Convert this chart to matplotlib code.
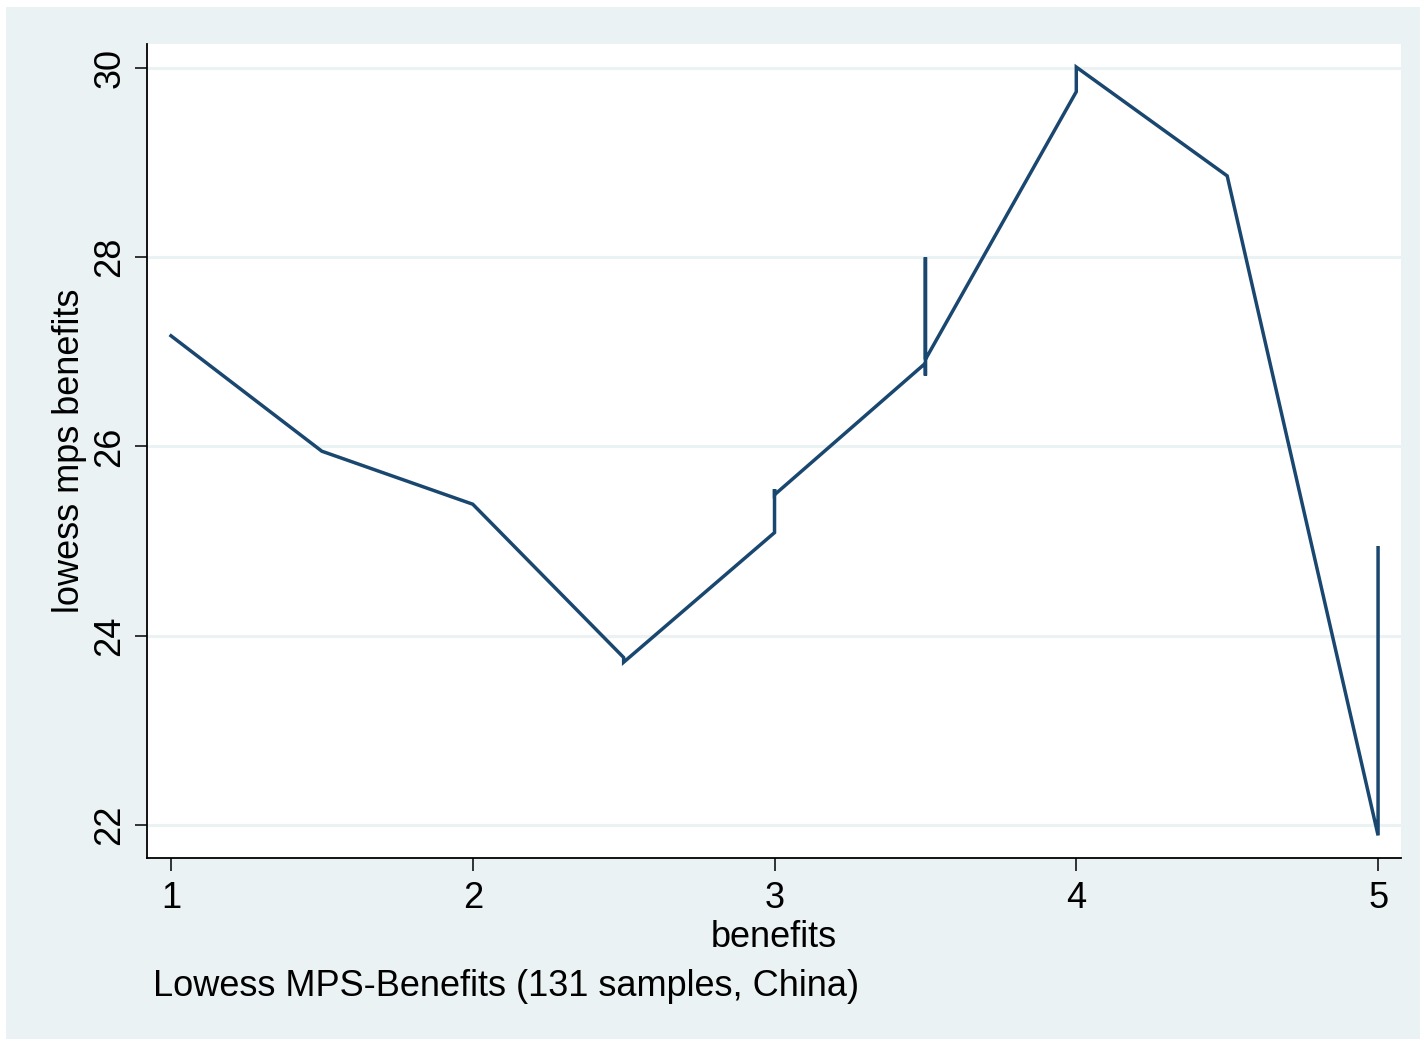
import matplotlib
matplotlib.use("Agg")
import matplotlib.pyplot as plt
from matplotlib.patches import Rectangle

plt.rcParams['font.family'] = ['Liberation Sans', 'DejaVu Sans']

# lowess fit, in the order Stata draws it (ties give vertical jumps)
benefits = [1, 1.5, 2, 2.5, 2.5, 3, 3, 3, 3.5, 3.5, 3.5, 3.5, 4, 4, 4.5, 5, 5]
lowess_mps = [27.17, 25.95, 25.39, 23.77, 23.72, 25.09, 25.55, 25.49,
              26.88, 26.75, 28.0, 26.92, 29.75, 30.01, 28.86, 21.89, 24.93]

x_ticks = [1, 2, 3, 4, 5]
y_ticks = [22, 24, 26, 28, 30]

BG = '#eaf2f3'
LINE = '#1a476f'

fig = plt.figure(figsize=(14.2, 10.39), dpi=100)
fig.patch.set_facecolor('white')
fig.patches.append(Rectangle((6 / 1420, 0), 1, 1 - 7 / 1039, transform=fig.transFigure,
                             facecolor=BG, edgecolor='none', zorder=-10))

ax = fig.add_axes([147 / 1420, 1 - 857.7 / 1039, (1401 - 147) / 1420, (857.7 - 44) / 1039])
ax.set_facecolor('white')

ax.plot(benefits, lowess_mps, color=LINE, lw=2.5, solid_joinstyle='miter', zorder=3)

ax.set_xlim(0.9205, 5.076)
ax.set_ylim(21.654, 30.254)
ax.set_xticks(x_ticks)
ax.set_yticks(y_ticks)
ax.set_yticklabels([str(v) for v in y_ticks], rotation=90, va='center')

for y in y_ticks:
    ax.axhline(y, color=BG, lw=2.2, zorder=1)

for side in ['top', 'right']:
    ax.spines[side].set_visible(False)
for side in ['left', 'bottom']:
    ax.spines[side].set_linewidth(1.3)
    ax.spines[side].set_color('black')

ax.tick_params(axis='x', direction='out', length=9, width=1.1, labelsize=26, pad=8)
ax.tick_params(axis='y', direction='out', length=9, width=1.1, labelsize=26, pad=5)

ax.set_xlabel('benefits', fontsize=26, labelpad=3)
ax.set_ylabel('lowess mps benefits', fontsize=26, labelpad=4)

fig.text(153 / 1420, 1 - 987 / 1039, 'Lowess MPS-Benefits (131 samples, China)',
         fontsize=26, ha='left', va='center')

fig.savefig('out.png', dpi=100, facecolor=fig.get_facecolor())
